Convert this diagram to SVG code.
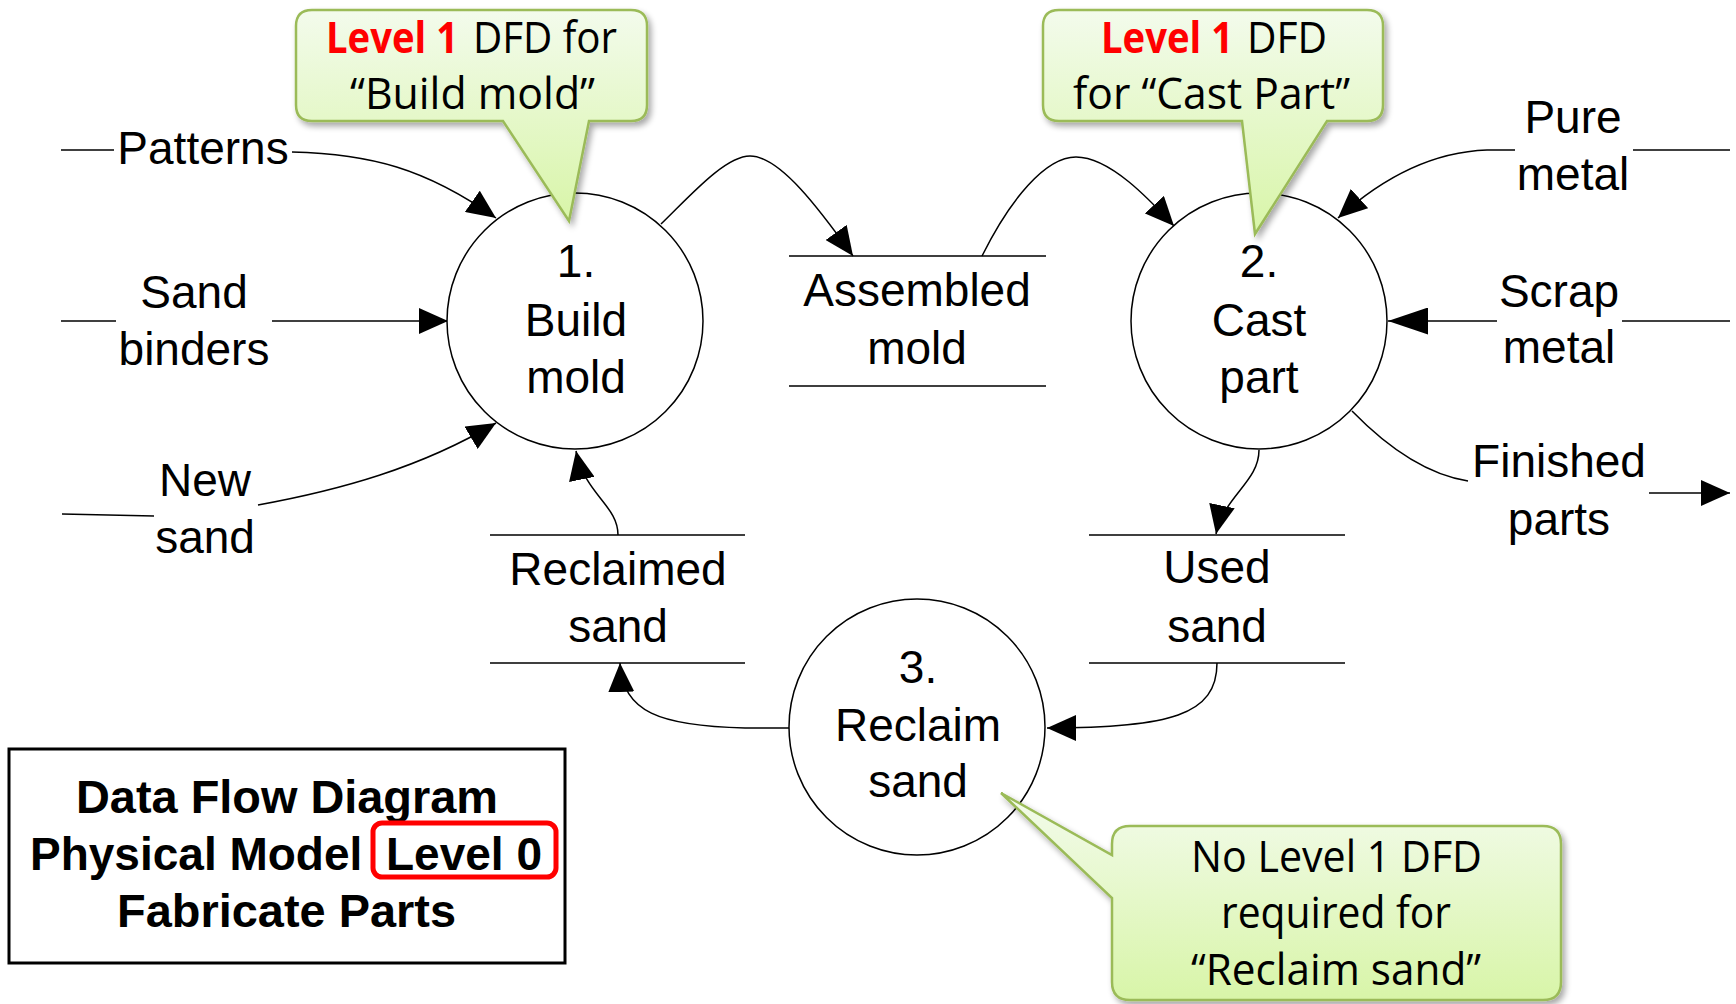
<svg xmlns="http://www.w3.org/2000/svg" width="1736" height="1004" viewBox="0 0 1736 1004">
<defs>
<style>
.t{font-family:"Liberation Sans",Arial,sans-serif;font-size:46px;fill:#000;text-anchor:middle}
.b{font-family:"Liberation Sans",Arial,sans-serif;font-size:46px;font-weight:bold;fill:#000}
.c{font-family:"Open Sans","Noto Sans",sans-serif;font-size:43px;fill:#000}
.cr{font-family:"Open Sans","Noto Sans",sans-serif;font-size:43px;font-weight:bold;fill:#ff0000}
.ln{fill:none;stroke:#000;stroke-width:1.5}
.ar{fill:none;stroke:#000;stroke-width:1.5;marker-end:url(#ah)}
.proc{fill:#fff;stroke:#000;stroke-width:1.5}
.call{fill:url(#gg);stroke:#9bbb59;stroke-width:2.5;filter:url(#sh)}
</style>
<marker id="ah" markerUnits="userSpaceOnUse" markerWidth="30" markerHeight="26" refX="29" refY="13" orient="auto">
<path d="M0,0 L29,13 L0,26 z" fill="#000"/>
</marker>
<marker id="ahL" markerUnits="userSpaceOnUse" markerWidth="41" markerHeight="27" refX="40" refY="13.5" orient="auto">
<path d="M0,0 L40,13.5 L0,27 z" fill="#000"/>
</marker>
<linearGradient id="gg" x1="0" y1="0" x2="0" y2="1">
<stop offset="0" stop-color="#f3fbec"/>
<stop offset="1" stop-color="#d8f5a8"/>
</linearGradient>
<filter id="sh" x="-10%" y="-10%" width="130%" height="130%">
<feGaussianBlur in="SourceAlpha" stdDeviation="3"/>
<feOffset dx="3" dy="4" result="o"/>
<feComponentTransfer><feFuncA type="linear" slope="0.35"/></feComponentTransfer>
<feMerge><feMergeNode/><feMergeNode in="SourceGraphic"/></feMerge>
</filter>
</defs>
<rect width="1736" height="1004" fill="#fff"/>

<g id="connectors">
<path class="ln" d="M61,150 H114"/>
<path class="ar" d="M292,152 C370,154 425,168 496,218"/>
<path class="ln" d="M61,321 H116"/>
<path class="ar" d="M272,321 H448"/>
<path class="ln" d="M62,514 L154,516"/>
<path class="ar" d="M258,505 C340,490 420,468 496,423"/>
<path class="ar" d="M661,224 C690,196 725,156 750,156 C780,156 820,210 853,256"/>
<path class="ar" d="M982,256 C1010,200 1045,157 1076,157 C1110,157 1150,200 1174,226"/>
<path class="ln" d="M1633,150 H1730"/>
<path class="ar" d="M1515,150 L1487,150 C1430,152 1380,180 1338,218"/>
<path class="ln" d="M1730,321 H1622"/>
<path class="ln" d="M1497,321 H1388" style="marker-end:url(#ahL)"/>
<path class="ln" d="M1352,411 C1390,450 1430,475 1468,481"/>
<path class="ar" d="M1649,493 H1730"/>
<path class="ar" d="M1259,450 C1259,482 1224,496 1216,534"/>
<path class="ar" d="M1217,663 C1217,715 1170,728 1047,728"/>
<path class="ar" d="M789,728 L745,728 C660,726 622,712 620,663"/>
<path class="ar" d="M618,535 C618,505 585,495 576,451"/>
</g>

<g id="flow-labels">
<text class="t" x="203" y="164">Patterns</text>
<text class="t" x="194" y="308">Sand</text>
<text class="t" x="194" y="365">binders</text>
<text class="t" x="205" y="496">New</text>
<text class="t" x="205" y="553">sand</text>
<text class="t" x="1573" y="133">Pure</text>
<text class="t" x="1573" y="190">metal</text>
<text class="t" x="1559" y="307">Scrap</text>
<text class="t" x="1559" y="363">metal</text>
<text class="t" x="1559" y="477">Finished</text>
<text class="t" x="1559" y="535">parts</text>
</g>

<g id="p1">
<circle class="proc" cx="575" cy="321" r="128"/>
<text class="t" x="576" y="277">1.</text>
<text class="t" x="576" y="336">Build</text>
<text class="t" x="576" y="393">mold</text>
</g>
<g id="p2">
<circle class="proc" cx="1259" cy="321" r="128"/>
<text class="t" x="1259" y="277">2.</text>
<text class="t" x="1259" y="336">Cast</text>
<text class="t" x="1259" y="393">part</text>
</g>
<g id="p3">
<circle class="proc" cx="917" cy="727" r="128"/>
<text class="t" x="918" y="683">3.</text>
<text class="t" x="918" y="741">Reclaim</text>
<text class="t" x="918" y="797">sand</text>
</g>

<g id="store-assembled">
<path class="ln" d="M789,256 H1046 M789,386 H1046"/>
<text class="t" x="917" y="306">Assembled</text>
<text class="t" x="917" y="364">mold</text>
</g>
<g id="store-reclaimed">
<path class="ln" d="M490,535 H745 M490,663 H745"/>
<text class="t" x="618" y="585">Reclaimed</text>
<text class="t" x="618" y="642">sand</text>
</g>
<g id="store-used">
<path class="ln" d="M1089,535 H1345 M1089,663 H1345"/>
<text class="t" x="1217" y="583">Used</text>
<text class="t" x="1217" y="642">sand</text>
</g>

<g id="callout1">
<path class="call" d="M312,10 H631 Q647,10 647,26 V105 Q647,121 631,121 H589 L569,221 L503,121 H312 Q296,121 296,105 V26 Q296,10 312,10 Z"/>
<text class="cr" x="326" y="53" textLength="132" lengthAdjust="spacingAndGlyphs">Level 1</text>
<text class="c" x="473" y="53" textLength="144" lengthAdjust="spacingAndGlyphs">DFD for</text>
<text class="c" x="350" y="109" textLength="245" lengthAdjust="spacingAndGlyphs">“Build mold”</text>
</g>
<g id="callout2">
<path class="call" d="M1059,10 H1367 Q1383,10 1383,26 V105 Q1383,121 1367,121 H1327 L1255,234 L1242,121 H1059 Q1043,121 1043,105 V26 Q1043,10 1059,10 Z"/>
<text class="cr" x="1101" y="53" textLength="132" lengthAdjust="spacingAndGlyphs">Level 1</text>
<text class="c" x="1247" y="53" textLength="80" lengthAdjust="spacingAndGlyphs">DFD</text>
<text class="c" x="1073" y="109" textLength="277" lengthAdjust="spacingAndGlyphs">for “Cast Part”</text>
</g>
<g id="callout3">
<path class="call" d="M1130,826 H1543 Q1561,826 1561,844 V982 Q1561,1000 1543,1000 H1130 Q1112,1000 1112,982 V898 L1001,793 L1112,855 V844 Q1112,826 1130,826 Z"/>
<text class="c" x="1191" y="872" textLength="291" lengthAdjust="spacingAndGlyphs">No Level 1 DFD</text>
<text class="c" x="1221" y="928" textLength="230" lengthAdjust="spacingAndGlyphs">required for</text>
<text class="c" x="1191" y="985" textLength="290" lengthAdjust="spacingAndGlyphs">“Reclaim sand”</text>
</g>

<g id="title">
<rect x="9" y="749" width="556" height="214" fill="none" stroke="#000" stroke-width="3"/>
<text class="b" x="76" y="813" textLength="422" lengthAdjust="spacingAndGlyphs">Data Flow Diagram</text>
<text class="b" y="870"><tspan x="30">Physical Model</tspan><tspan x="386">Level 0</tspan></text>
<text class="b" x="117" y="927" textLength="339" lengthAdjust="spacingAndGlyphs">Fabricate Parts</text>
<rect x="373" y="823" width="183" height="54" rx="9" fill="none" stroke="#ff0000" stroke-width="5"/>
</g>
</svg>
